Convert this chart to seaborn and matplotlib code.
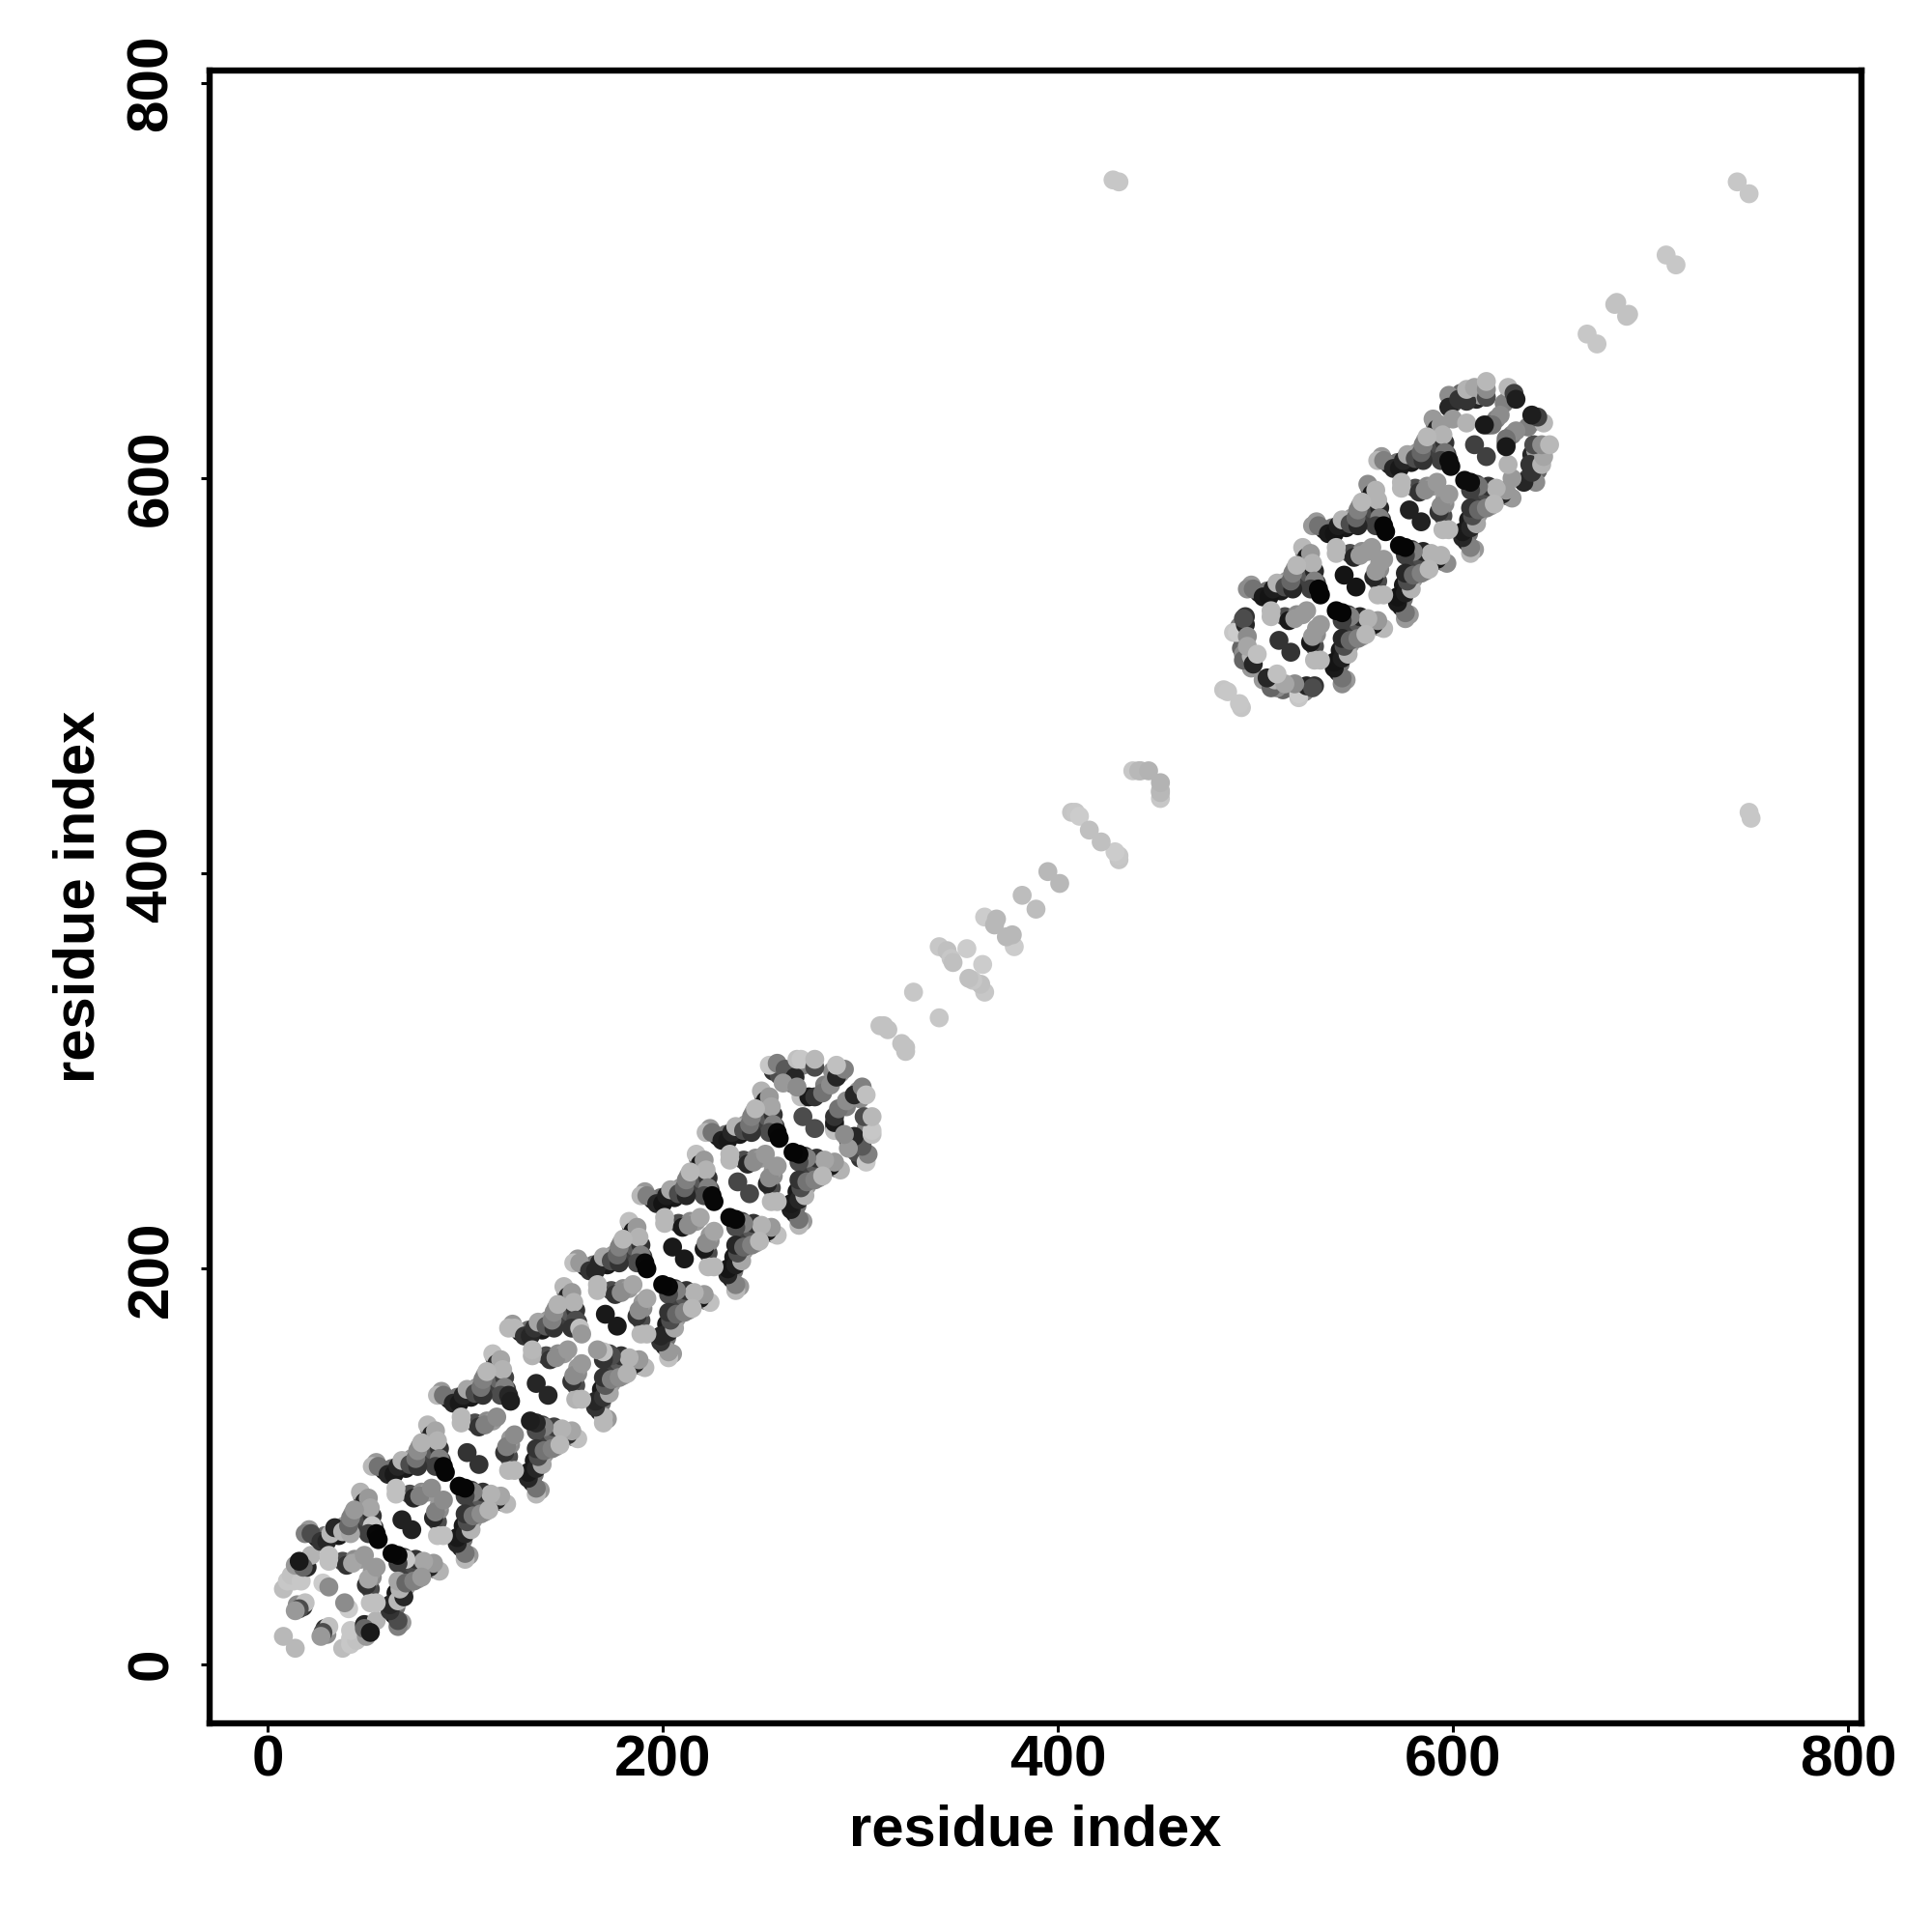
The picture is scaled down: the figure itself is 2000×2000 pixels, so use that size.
import matplotlib
matplotlib.use("Agg")
import matplotlib.pyplot as plt
import seaborn as sns
import pandas as pd

# residue pairs (i < j), one list group per repeat of the contact band; shade 0 = black, 1 = white
start_i = [8,8,10,13,12,17,15,18,19,16,14,28,20,22,14,18,16]
start_j = [14,38,42,42,45,42,30,29,31,28,27,41,49,55,50,49,52]
start_s = [.72,.74,.78,.78,.76,.78,.55,.2,.75,.3,.6,.8,.15,.7,.6,.4,.1]

fill_s = [.15,.25,.6,.3,.1,.45,.1,.6,.25,.6,.3,.55,.6,.6]
fill2_i = [49,54,50,48,25,29,36,39,45,43,38,44,47,21]
fill2_j = [77,69,69,85,64,65,65,70,71,76,52,53,53,68]
u2_i = [47,49,51,50,53,52,53,51,55,56,19,22,27,30,32,34,38,42,41,42,44,31,31,40,43,49]
u2_j = [87,82,84,74,75,79,70,66,66,63,66,66,62,62,66,69,67,66,70,74,78,52,55,50,51,55]
u2_s = [.7,.15,.6,.3,.2,.65,.78,.25,.03,.02,.5,.3,.2,.15,.72,.15,.7,.65,.4,.5,.6,.75,.75,.2,.65,.6]

fill3_i = [83,88,84,82,59,63,70,73,79,77,72,78,81,55]
fill3_j = [111,103,103,119,98,99,99,104,105,110,86,87,87,102]
u3_i = [81,83,85,84,87,86,87,85,89,90,53,56,61,64,66,68,72,76,75,76,78,65,65,74,77,83]
u3_j = [121,116,118,108,109,113,104,100,100,97,100,100,96,96,100,103,101,100,104,108,112,86,89,84,85,89]
u3_s = [.72,.15,.65,.35,.2,.7,.5,.25,.02,.02,.72,.45,.15,.1,.15,.7,.3,.2,.45,.55,.7,.75,.75,.15,.5,.55]

fill4_i = [116,121,117,115,92,96,103,106,112,110,105,111,114,88]
fill4_j = [147,139,139,155,134,135,135,140,141,146,122,123,123,138]
u4_i = [114,116,118,117,120,119,120,118,122,123,86,89,94,97,99,101,105,109,108,109,111,98,98,107,110,116]
u4_j = [157,152,154,144,145,149,140,136,136,133,136,136,132,132,136,139,137,136,140,144,148,122,125,120,121,125]
u4_s = [.75,.2,.65,.4,.25,.7,.5,.3,.15,.12,.72,.45,.15,.1,.15,.65,.3,.2,.45,.5,.72,.72,.72,.2,.5,.55]

fill5_i = [152,157,153,151,128,132,139,142,148,146,141,147,150,124]
fill5_j = [181,173,173,189,168,169,169,174,175,180,156,157,157,172]
u5_i = [150,152,154,153,156,155,156,154,158,159,122,125,130,133,135,137,141,145,144,145,147,134,134,143,146,152]
u5_j = [191,186,188,178,179,183,174,170,170,167,170,170,166,166,170,173,171,170,174,178,182,156,159,154,155,159]
u5_s = [.72,.15,.6,.35,.2,.7,.3,.2,.75,.6,.72,.72,.2,.15,.2,.65,.35,.2,.5,.55,.7,.7,.72,.2,.55,.6]

fill6_i = [185,190,186,184,161,165,172,175,181,179,174,180,183,157]
fill6_j = [214,206,206,222,201,202,202,207,208,213,189,190,190,205]
u6_i = [183,185,187,186,189,188,189,187,191,192,155,158,163,166,168,170,174,178,177,178,180,167,167,176,179,185]
u6_j = [224,219,221,211,212,216,207,203,203,200,203,203,199,199,203,206,204,203,207,211,215,189,192,187,188,192]
u6_s = [.75,.1,.6,.35,.2,.7,.5,.3,.03,.02,.75,.6,.2,.15,.15,.65,.3,.2,.4,.5,.72,.72,.72,.2,.55,.65]

fill7_i = [219,224,220,218,195,199,206,209,215,213,208,214,217,191]
fill7_j = [248,240,240,256,235,236,236,241,242,247,223,224,224,239]
u7_i = [217,219,221,220,223,222,223,221,225,226,189,192,197,200,202,204,208,212,211,212,214,201,201,210,213,219]
u7_j = [258,253,255,245,246,250,241,237,237,234,237,237,233,233,237,240,238,237,241,245,249,223,226,221,222,226]
u7_s = [.75,.1,.6,.35,.2,.7,.5,.3,.03,.03,.72,.5,.15,.08,.12,.65,.3,.15,.4,.5,.72,.72,.72,.1,.55,.65]

fill8_i = [252,257,253,251,228,232,239,242,248,246,241,247,250,224]
fill8_j = [280,272,272,288,267,268,268,273,274,279,255,256,256,271]
u8_i = [250,252,254,253,256,255,256,254,258,259,222,225,230,233,235,237,241,245,244,245,247,234,234,243,246,252]
u8_j = [290,285,287,277,278,282,273,269,269,266,269,269,265,265,269,272,270,269,273,277,281,255,258,253,254,258]
u8_s = [.7,.1,.6,.35,.2,.65,.5,.3,.03,.02,.72,.45,.12,.1,.15,.7,.3,.2,.45,.5,.72,.72,.72,.15,.55,.6]

u9_i = [256,259,264,271,265,282,286,290,272,254,258,262,267,268,270,277,277,261,270,274,277,281,285,288,292,288,268]
u9_j = [300,298,299,303,294,293,300,299,287,303,304,301,297,306,306,302,306,294,287,287,287,289,293,297,301,303,292]
u9_s = [.2,.3,.6,.5,.3,.5,.55,.6,.3,.78,.5,.35,.15,.75,.78,.3,.72,.6,.75,.1,.2,.45,.55,.15,.5,.75,.55]

pair_i = [31,68,101,136,171,205,238,271,512,545,578,611]
pair_j = [39,73,107,142,177,211,244,277,518,551,584,617]
pair_s = [.55,.13,.2,.15,.1,.1,.28,.3,.2,.08,.13,.25]

v1_i = [492,493,497,498,493,489,491,495,495,494,496,494,494,498,496,499,501]
v1_j = [525,514,512,504,520,522,522,526,530,529,520,511,508,510,515,506,511]
v1_s = [.5,.4,.3,.6,.4,.78,.8,.15,.2,.3,.55,.55,.4,.7,.65,.15,.75]

fillb_i = [526,531,527,525,502,506,513,516,522,520,515,521,524,498]
fillb_j = [555,547,547,563,542,543,543,548,549,554,530,531,531,546]
v2_i = [524,526,528,527,530,529,530,528,532,533,496,499,504,507,509,511,515,519,518,519,521,508,508,517,520,526]
v2_j = [565,560,562,552,553,557,548,544,544,541,544,544,540,540,544,547,545,544,548,552,556,530,533,528,529,533]
v2_s = [.72,.1,.6,.35,.15,.7,.5,.25,.02,.02,.55,.45,.1,.08,.12,.7,.3,.15,.4,.5,.72,.72,.72,.1,.6,.6]

fillc_i = [559,564,560,558,535,539,546,549,555,553,548,554,557,531]
fillc_j = [587,579,579,595,574,575,575,580,581,586,562,563,563,578]
v3_i = [557,559,561,560,563,562,563,561,565,566,529,532,537,540,542,544,548,552,551,552,554,541,541,550,553,559]
v3_j = [597,592,594,584,585,589,580,576,576,573,576,576,572,572,576,579,577,576,580,584,588,562,565,560,561,565]
v3_s = [.55,.1,.7,.3,.15,.7,.5,.25,.02,.02,.6,.45,.1,.08,.12,.7,.3,.15,.4,.5,.72,.72,.72,.15,.6,.6]

filld_i = [592,597,593,591,568,572,579,582,588,586,581,587,590,564]
filld_j = [620,612,612,628,607,608,608,613,614,619,595,596,596,611]
v4_i = [590,592,594,593,596,595,596,594,598,599,562,565,570,573,575,577,581,585,584,585,587,574,574,583,586,592]
v4_j = [630,625,627,617,618,622,613,609,609,606,609,609,605,605,609,612,610,609,613,617,621,595,598,593,594,598]
v4_s = [.6,.15,.6,.3,.2,.7,.45,.25,.05,.05,.72,.5,.15,.1,.15,.65,.3,.2,.4,.5,.72,.72,.72,.2,.55,.6]

v5_i = [600,604,612,614,629,622,618,598,598,600,603,607,607,611,607,617,617,617,626,628,631,632,624,620,616]
v5_j = [638,643,640,642,642,630,627,642,636,630,640,639,645,646,628,641,645,649,638,646,643,640,632,627,627]
v5_s = [.3,.4,.15,.6,.6,.5,.3,.55,.15,.6,.2,.2,.7,.65,.7,.3,.55,.72,.5,.72,.25,.12,.55,.45,.1]

link_i = [310,312,314,327,340,344,346,347,354,363,369,368,382,395,407,409,411,416,438,441,442,446,484,486,668,682,683,708,744,428,431]
link_j = [323,323,321,340,363,361,357,355,362,378,377,374,389,401,431,431,429,422,452,452,452,452,493,492,673,688,689,713,750,751,750]
link_s = [.76,.76,.76,.78,.78,.75,.78,.75,.8,.8,.72,.72,.74,.72,.77,.78,.8,.75,.78,.72,.72,.7,.77,.78,.78,.76,.76,.78,.78,.78,.78]

x_ticks = [0, 200, 400, 600, 800]
axis_label = "residue index"

groups = [
    (start_i, start_j, start_s),
    (fill2_i, fill2_j, fill_s), (u2_i, u2_j, u2_s),
    (fill3_i, fill3_j, fill_s), (u3_i, u3_j, u3_s),
    (fill4_i, fill4_j, fill_s), (u4_i, u4_j, u4_s),
    (fill5_i, fill5_j, fill_s), (u5_i, u5_j, u5_s),
    (fill6_i, fill6_j, fill_s), (u6_i, u6_j, u6_s),
    (fill7_i, fill7_j, fill_s), (u7_i, u7_j, u7_s),
    (fill8_i, fill8_j, fill_s), (u8_i, u8_j, u8_s),
    (u9_i, u9_j, u9_s), (pair_i, pair_j, pair_s), (v1_i, v1_j, v1_s),
    (fillb_i, fillb_j, fill_s), (v2_i, v2_j, v2_s),
    (fillc_i, fillc_j, fill_s), (v3_i, v3_j, v3_s),
    (filld_i, filld_j, fill_s), (v4_i, v4_j, v4_s),
    (v5_i, v5_j, v5_s), (link_i, link_j, link_s),
]
rows = []
for gi, gj, gs in groups:
    for a, b, s in zip(gi, gj, gs):
        rows.append((a, b, s))
        rows.append((b, a, s))
df = pd.DataFrame(rows, columns=["i", "j", "shade"])

sns.set_theme(style="white")
plt.rcParams["font.family"] = ["Liberation Sans", "DejaVu Sans"]
plt.rcParams["font.weight"] = "bold"

fig = plt.figure(figsize=(10, 10), dpi=200, facecolor="white")
ax = fig.add_axes([216.7 / 2000, 1 - 1784 / 2000, (1927 - 216.7) / 2000, (1784 - 72.7) / 2000])
sns.scatterplot(data=df, x="i", y="j", hue="shade", palette="gray", hue_norm=(0, 1),
                s=50, linewidth=0, legend=False, ax=ax, zorder=3)
ax.set_xlim(-29.5, 806.9)
ax.set_ylim(-30, 806.5)
ax.set_xticks(x_ticks)
ax.set_yticks(x_ticks)
for sp in ax.spines.values():
    sp.set_visible(True)
    sp.set_linewidth(2.3)
    sp.set_color("black")
ax.tick_params(axis="x", length=3.2, width=1.1, pad=1.0, labelsize=21.7, color="black", labelcolor="black", bottom=True)
ax.tick_params(axis="y", length=3.4, width=1.1, pad=8, labelsize=21.7, color="black", labelcolor="black", left=True)
for t in ax.get_yticklabels():
    t.set_rotation(90)
    t.set_va("center")
for t in ax.get_xticklabels() + ax.get_yticklabels():
    t.set_fontweight("bold")
ax.set_xlabel(axis_label, fontsize=21.5, fontweight="bold", color="black")
ax.set_ylabel(axis_label, fontsize=21.5, fontweight="bold", color="black")
ax.xaxis.set_label_coords(0.5, (1784 - 1895) / (1784 - 72.7), transform=ax.transAxes)
ax.yaxis.set_label_coords((81.5 - 216.7) / (1927 - 216.7), 0.5, transform=ax.transAxes)
ax.xaxis.label.set_va("center")
ax.yaxis.label.set_va("center")
fig.savefig("out.png", dpi=200)
